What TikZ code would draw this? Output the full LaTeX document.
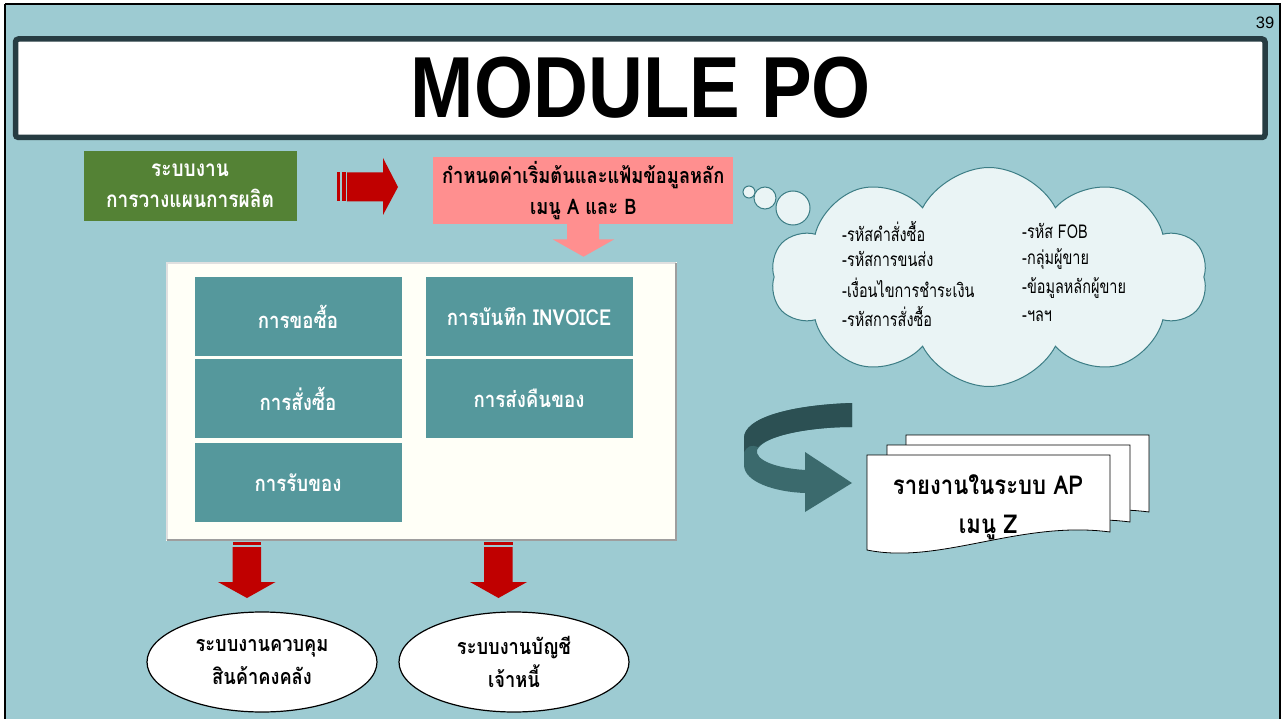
\documentclass[tikz,border=0pt]{standalone}
\usepackage{fontspec}
\setmainfont{Liberation Sans}
\newfontfamily\thai[Script=Thai, FakeStretch=0.85]{Loma}
\newfontfamily\thaicond[Script=Thai, FakeStretch=0.76]{Loma}
\usetikzlibrary{shapes.symbols,shapes.geometric}
\definecolor{bgblue}{HTML}{9DCBD2}
\definecolor{darkframe}{HTML}{263C42}
\definecolor{greenbox}{HTML}{548235}
\definecolor{pinkbox}{HTML}{FF8F8F}
\definecolor{redarrow}{HTML}{C00000}
\definecolor{tealbox}{HTML}{55989C}
\definecolor{cloudfill}{HTML}{EAF4F5}
\definecolor{cloudline}{HTML}{3C7D85}
\definecolor{ivory}{HTML}{FFFFF7}
\definecolor{curvedark}{HTML}{2C5053}
\definecolor{curvelight}{HTML}{3B6A6D}
\tikzset{
  tbox/.style={fill=tealbox, draw=none, inner sep=0pt, outer sep=0pt,
    minimum width=207pt, minimum height=79pt, text=white,
    font={\thai\bfseries\fontsize{22}{24}\selectfont}},
  sysell/.style={ellipse, draw=black, line width=1.2pt, fill=white,
    minimum width=230pt, minimum height=100pt, inner sep=0pt, align=center,
    font={\thai\bfseries\fontsize{21.5}{33}\selectfont}},
  cloudtxt/.style={anchor=west, inner sep=0pt, font={\thaicond\fontsize{19}{20}\selectfont}},
  docpage/.style={fill=white, draw=black, line width=0.8pt},
}
\begin{document}
\begin{tikzpicture}[x=1pt,y=-1pt]
\useasboundingbox (0,0) rectangle (1285,719);
\fill[white] (0,0) rectangle (1285,719);
\fill[bgblue] (5,4) rectangle (1280,725);
\draw[black, line width=2pt] (5,4) -- (1280,4) -- (1280,725);
\draw[black, line width=2pt] (5,4) -- (5,725);
% page number
\node[font=\fontsize{16.5}{18}\selectfont, inner sep=0pt] (pnum) at (1265,23) {39};
% title
\draw[darkframe, line width=5.5pt, fill=white, rounded corners=3pt] (15.5,39) rectangle (1265,137.5);
\node[font=\bfseries\fontsize{76}{80}\selectfont, inner sep=0pt] (title) at (641,88) {\scalebox{1}[1.14]{MODULE PO}};
% green box
\node[fill=greenbox, text=white, minimum width=213pt, minimum height=70pt, inner sep=0pt, align=center,
  font={\thai\bfseries\fontsize{22.5}{31}\selectfont}] (plan) at (190,186) {ระบบงาน\\การวางแผนการผลิต};
% red right arrow
\fill[redarrow] (337,172.5) rectangle (340,201.5);
\fill[redarrow] (342,172.5) rectangle (345.5,201.5);
\fill[redarrow] (347,172.5) -- (383,172.5) -- (383,158) -- (398,187) -- (383,215) -- (383,201.5) -- (347,201.5) -- cycle;
% pink box
\node[fill=pinkbox, text=black, minimum width=300pt, minimum height=67.5pt, inner sep=0pt, align=center,
  font={\thai\bfseries\fontsize{21.5}{31}\selectfont}] (setup) at (583.3,190.5) {กำหนดค่าเริ่มต้นและแฟ้มข้อมูลหลัก\\เมนู A และ B};
% pink down arrow
\fill[pinkbox] (567,224) -- (599,224) -- (599,239.5) -- (614,239.5) -- (583.5,256.7) -- (553,239.5) -- (567,239.5) -- cycle;
% cloud
\node[cloud, cloud puffs=10, cloud puff arc=125, cloud ignores aspect, draw=cloudline, line width=1pt, fill=cloudfill,
  minimum width=436pt, minimum height=219pt, inner sep=0pt] (cloud) at (989,277) {};
\draw[cloudline, line width=1pt, fill=cloudfill] (749,192) circle (6pt);
\draw[cloudline, line width=1pt, fill=cloudfill] (765,198) circle (11pt);
\draw[cloudline, line width=1pt, fill=cloudfill] (793,208) circle (17pt);
\node[cloudtxt] (c1) at (842,231) {-รหัสคำสั่งซื้อ};
\node[cloudtxt] (c2) at (842,259) {-รหัสการขนส่ง};
\node[cloudtxt] (c3) at (842,288) {-เงื่อนไขการชำระเงิน};
\node[cloudtxt] (c4) at (842,316.5) {-รหัสการสั่งซื้อ};
\node[cloudtxt] (c5) at (1022,231) {-รหัส FOB};
\node[cloudtxt] (c6) at (1022,259) {-กลุ่มผู้ขาย};
\node[cloudtxt] (c7) at (1022,288) {-ข้อมูลหลักผู้ขาย};
\node[cloudtxt] (c8) at (1022,316.5) {-ฯลฯ};
% main box
\fill[ivory] (166,262) rectangle (677,541);
\draw[line width=2.5pt, color=black!12] (167,540) -- (167,263) -- (676,263);
\draw[line width=2.5pt, color=black!38] (167,540) -- (676,540) -- (676,263);
\node[tbox] (req) at (298,316.5) {การขอซื้อ};
\node[tbox] (po) at (298,398.5) {การสั่งซื้อ};
\node[tbox] (rcv) at (298,482.5) {การรับของ};
\node[tbox] (inv) at (529,316.5) {การบันทึก INVOICE};
\node[tbox] (ret) at (529,398.5) {การส่งคืนของ};
% red down arrows
\fill[redarrow] (232.5,542) rectangle (261,545);
\fill[redarrow] (232.5,547) -- (261,547) -- (261,582) -- (275.5,582) -- (247,598) -- (218,582) -- (232.5,582) -- cycle;
\fill[redarrow] (484,542) rectangle (512.5,545);
\fill[redarrow] (484,547) -- (512.5,547) -- (512.5,582) -- (527,582) -- (498.5,598) -- (470,582) -- (484,582) -- cycle;
% ellipses
\node[sysell] (inv2) at (262,662) {ระบบงานควบคุม\\สินค้าคงคลัง};
\node[sysell] (ap) at (514,662) {ระบบงานบัญชี\\เจ้าหนี้};
% curved arrow
\fill[curvelight] (852,403) .. controls (790,405) and (744,418) .. (744,438) -- (744,465)
  .. controls (744,482) and (775,492) .. (805,493) -- (805,512) -- (852,483) -- (805,452) -- (805,470)
  .. controls (775,468) and (755,460) .. (757,450) .. controls (765,434) and (815,427) .. (852,427) -- cycle;
\fill[curvedark] (852,403) .. controls (790,405) and (744,418) .. (744,438) -- (744,452)
  .. controls (747,446) and (752,444) .. (758,447)
  .. controls (770,434) and (815,427) .. (852,427) -- cycle;
% documents
\foreach \dx/\dy/\nm in {39/-20/back, 20/-10/mid} {
  \draw[docpage] (867+\dx,455+\dy) -- (1110+\dx,455+\dy) -- (1110+\dx,532+\dy)
    .. controls (1020+\dx,520+\dy) and (940+\dx,565+\dy) .. (867+\dx,550+\dy) -- cycle;
}
\draw[docpage] (867,455) -- (1110,455) -- (1110,532)
  .. controls (1020,520) and (940,565) .. (867,550) -- cycle;
\node[align=center, inner sep=0pt, font={\thai\bfseries\fontsize{26}{39}\selectfont}] (report) at (988,507) {รายงานในระบบ AP\\เมนู Z};
\end{tikzpicture}
\end{document}
